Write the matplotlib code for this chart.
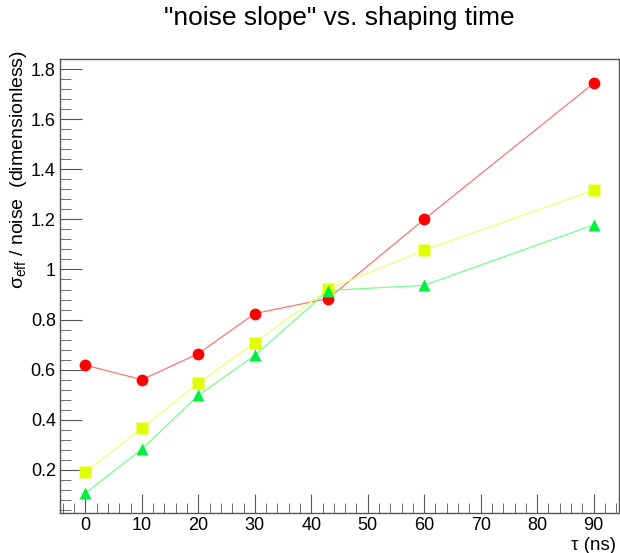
import numpy as np
import matplotlib
matplotlib.use("Agg")
import matplotlib.pyplot as plt
from matplotlib.ticker import MultipleLocator, FormatStrFormatter

plt.rcParams['font.family'] = ['Liberation Sans', 'DejaVu Sans']
plt.rcParams['mathtext.fontset'] = 'custom'
plt.rcParams['mathtext.rm'] = 'Liberation Sans'

# shaping time (ns)
tau = [0, 10, 20, 30, 43, 60, 90]
# three series
red_vals = [0.618, 0.560, 0.664, 0.824, 0.884, 1.200, 1.743]
yellow_vals = [0.190, 0.366, 0.546, 0.708, 0.921, 1.077, 1.316]
green_vals = [0.107, 0.283, 0.498, 0.657, 0.916, 0.937, 1.178]

fig = plt.figure(figsize=(6.2, 5.53), dpi=100)
ax = fig.add_axes([60/620, 40/553, 559/620, 454/553])

ax.plot(tau, red_vals, '-', color=(1, 0.45, 0.45), lw=0.9, zorder=2)
ax.plot(tau, yellow_vals, '-', color=(0.93, 1, 0.45), lw=0.9, zorder=2)
ax.plot(tau, green_vals, '-', color=(0.45, 1, 0.55), lw=0.9, zorder=2)

ax.plot(tau, red_vals, 'o', color='#ff0000', ms=8.5, mec='none', zorder=3)
ax.plot(tau, yellow_vals, 's', color='#e0ff00', ms=8, mec='none', zorder=3)
ax.plot(tau, green_vals, '^', color='#00f040', ms=8.5, mec='none', zorder=3)

ax.set_xlim(-4.5, 94.5)
ax.set_ylim(0.028, 1.84)

ax.xaxis.set_major_locator(MultipleLocator(10))
ax.xaxis.set_minor_locator(MultipleLocator(2))
ax.yaxis.set_major_locator(MultipleLocator(0.2))
ax.yaxis.set_minor_locator(MultipleLocator(0.04))
ax.yaxis.set_major_formatter(FormatStrFormatter('%g'))

ax.tick_params(which='both', direction='in', top=False, right=False,
               labelsize=13, color='#555555')
ax.tick_params(axis='x', which='major', length=14, pad=3)
ax.tick_params(axis='x', which='minor', length=7)
ax.tick_params(axis='y', which='major', length=16, pad=3)
ax.tick_params(axis='y', which='minor', length=8)

for sp in ax.spines.values():
    sp.set_color('#555555')
    sp.set_linewidth(1.0)

# axis titles placed like ROOT does (right / top aligned)
fig.text(616/620, -1/553, 'τ (ns)', fontsize=13.5, ha='right', va='bottom')
fig.text(19/620, 1 - 50/553, r'σ$_{\mathrm{eff}}$ / noise  (dimensionless)',
         fontsize=14, rotation=90, ha='center', va='top')

fig.suptitle('"noise slope" vs. shaping time', fontsize=19, x=0.548, y=0.99)

fig.savefig('out.png', dpi=100)
